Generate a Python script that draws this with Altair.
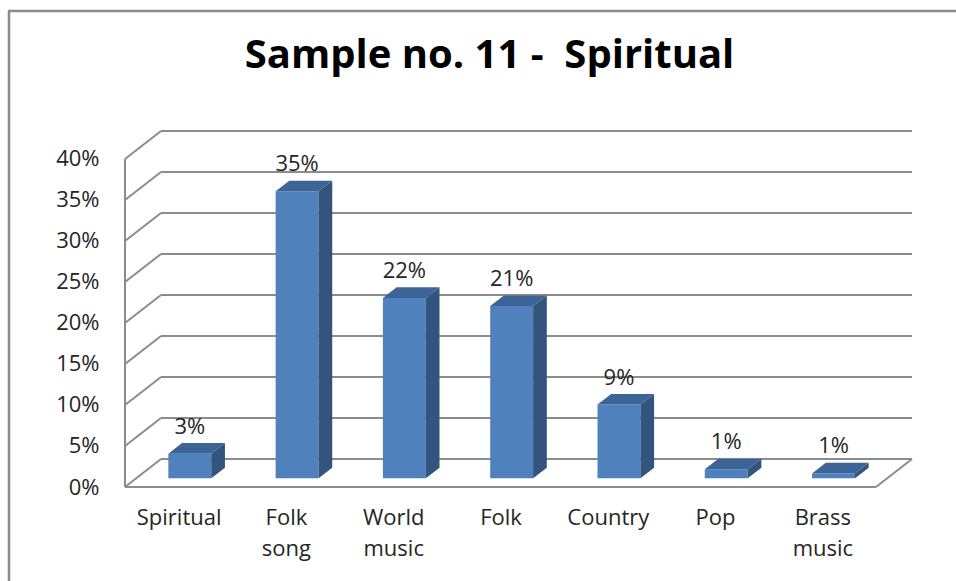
import json
import altair as alt
import pandas as pd

# Share of each genre in sample no. 11
categories = ["Spiritual", "Folk song", "World music", "Folk", "Country", "Pop", "Brass music"]
shares = [3, 35, 22, 21, 9, 1.1, 0.6]          # percent
y_ticks = [0, 5, 10, 15, 20, 25, 30, 35, 40]    # percent

# --- 3-D box geometry (in data units) ---------------------------------
N = len(categories)
DEPTH_X = 0.3355          # depth of the box along x, in category slots
DEPTH_Y = 3.41            # depth of the box along y, in percentage points
BAR_FRONT, BAR_BACK = 0.31, 0.69   # fraction of the depth each bar occupies
HALF_W = 0.2              # half width of a bar's front face, in slots
DX = (BAR_BACK - BAR_FRONT) * DEPTH_X
DZ = (BAR_BACK - BAR_FRONT) * DEPTH_Y
Z0 = BAR_FRONT * DEPTH_Y

W, H = 787, 356
PAD_L, PAD_T = 125, 131

FONT = "Open Sans"
FS = 22
TEXT = "#262626"
GRID = "#8c8c8c"
FRONT_C, TOP_C, SIDE_C = "#4f81bd", "#3c6496", "#32547d"

xs = alt.Scale(domain=[0, N + DEPTH_X], nice=False, zero=False)
ys = alt.Scale(domain=[0, 40 + DEPTH_Y], nice=False, zero=False)

# --- wall / floor edges ------------------------------------------------
edges = []
for t in y_ticks:
    edges.append(dict(x=DEPTH_X, y=t + DEPTH_Y, x2=N + DEPTH_X, y2=t + DEPTH_Y))  # back wall
    edges.append(dict(x=0, y=t, x2=DEPTH_X, y2=t + DEPTH_Y))                      # side wall
edges.append(dict(x=0, y=0, x2=N, y2=0))                                          # floor front
edges.append(dict(x=N, y=0, x2=N + DEPTH_X, y2=DEPTH_Y))                          # floor right
edges.append(dict(x=0, y=0, x2=0, y2=max(y_ticks)))                               # side wall front
edges = pd.DataFrame(edges)

# --- bar faces ---------------------------------------------------------
front, side, top, labels = [], [], [], []
for i, (cat, v) in enumerate(zip(categories, shares)):
    c = i + 0.5 + BAR_FRONT * DEPTH_X
    front.append(dict(cat=cat, x=c - HALF_W, x2=c + HALF_W, y=Z0, y2=v + Z0))
    for k in (0, 1):
        side.append(dict(cat=cat, x=c + HALF_W + k * DX, y=v + Z0 + k * DZ, y2=Z0 + k * DZ))
        top.append(dict(cat=cat, y=v + Z0 + k * DZ, x=c - HALF_W + k * DX, x2=c + HALF_W + k * DX))
    labels.append(dict(cat=cat, x=c, y=v + Z0, share=v))
front, side, top, labels = map(pd.DataFrame, (front, side, top, labels))

label_lines = json.dumps([c.split(" ") for c in categories])

x_enc = alt.X("x:Q", scale=xs, title=None)
y_enc = alt.Y("y:Q", scale=ys, title=None)

grid = alt.Chart(edges).mark_rule(color=GRID, strokeWidth=2).encode(
    x=alt.X("x:Q", scale=xs, title=None, axis=alt.Axis(
        values=[i + 0.5 for i in range(N)],
        labelExpr=f"{label_lines}[round(datum.value - 0.5)]",
        domain=False, ticks=False, grid=False, labelPadding=20,
        labelLineHeight=31, labelFlush=False, labelOverlap=False,
        labelFont=FONT, labelFontSize=FS, labelColor=TEXT)),
    x2="x2:Q",
    y=alt.Y("y:Q", scale=ys, title=None, axis=alt.Axis(
        values=y_ticks, labelExpr="datum.value + '%'",
        domain=False, ticks=False, grid=False, labelPadding=26,
        labelFont=FONT, labelFontSize=FS, labelColor=TEXT)),
    y2="y2:Q",
)

front_face = alt.Chart(front).mark_rect(color=FRONT_C).encode(
    x=x_enc, x2="x2:Q", y=y_enc, y2="y2:Q",
)

side_face = alt.Chart(side).mark_area(color=SIDE_C, orient="vertical").encode(
    x=x_enc, y=y_enc, y2="y2:Q", detail="cat:N",
)

top_face = alt.Chart(top).mark_area(color=TOP_C, orient="horizontal").encode(
    y=y_enc, x=x_enc, x2="x2:Q", detail="cat:N",
)

value_text = alt.Chart(labels).transform_calculate(
    txt="format(datum.share, '.0f') + '%'"
).mark_text(font=FONT, fontSize=FS, color=TEXT, dy=-27, baseline="middle").encode(
    x=x_enc, y=y_enc, text="txt:N",
)

# chart-area frame (top and left edges)
frame = alt.Chart(pd.DataFrame({"k": [0]})).mark_rule(color="#8c8c8c", strokeWidth=2.5)
frame_top = frame.encode(x=alt.value(-PAD_L + 8), x2=alt.value(956), y=alt.value(-PAD_T + 11))
frame_left = frame.encode(x=alt.value(-PAD_L + 9), y=alt.value(-PAD_T + 11), y2=alt.value(600))

# the title is laid out from the top of the frame, hence the negative offset
chart = alt.layer(
    grid, front_face, side_face, top_face, value_text, frame_top, frame_left
).properties(
    width=W, height=H,
    title=alt.TitleParams(
        "Sample no. 11 - \u00a0Spiritual", font=FONT, fontSize=40, fontWeight="bold",
        color="#000000", anchor="middle", baseline="alphabetic", offset=-98, dx=-29,
        frame="group",
    ),
    padding={"left": PAD_L, "top": PAD_T, "right": 956 - PAD_L - W, "bottom": 581 - PAD_T - H},
    autosize=alt.AutoSizeParams(type="none"),
    background="white",
).configure_view(stroke=None)

chart.save("out.html", embed_options={"renderer": "svg", "actions": False})
